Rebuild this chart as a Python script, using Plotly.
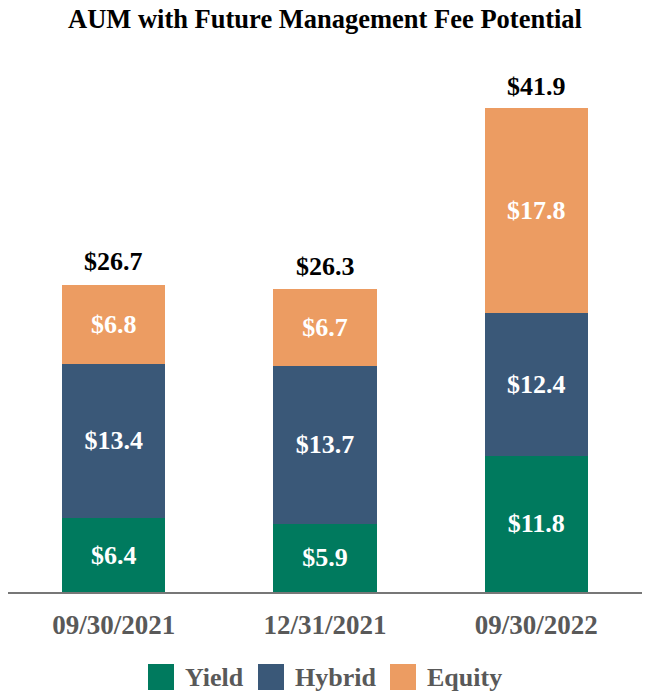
import plotly.graph_objects as go

categories = ["09/30/2021", "12/31/2021", "09/30/2022"]
yield_vals = [6.4, 5.9, 11.8]
hybrid_vals = [13.4, 13.7, 12.4]
equity_vals = [6.8, 6.7, 17.8]
totals = [26.7, 26.3, 41.9]
series_names = ["Yield", "Hybrid", "Equity"]
series_colors = ["#007A5E", "#3A5878", "#EC9C62"]
series_vals = [yield_vals, hybrid_vals, equity_vals]

FONT = "Liberation Serif, Times New Roman, serif"

# plot area in pixels (for placing the hand-made legend)
L, R, T, B = 8, 642, 73, 592
def px(x):
    return (x - L) / (R - L)
def py(y):
    return (B - y) / (B - T)

fig = go.Figure()
for name, vals, color in zip(series_names, series_vals, series_colors):
    fig.add_trace(go.Bar(
        x=categories, y=vals, name=name, marker_color=color,
        marker_line_width=0,
        text=[f"${v:.1f}" for v in vals], textposition="inside",
        insidetextanchor="middle",
        textfont=dict(family=FONT, size=26, color="white", weight="bold"),
        showlegend=False, hoverinfo="skip",
    ))

for c, t in zip(categories, totals):
    fig.add_annotation(
        x=c, y=t, text=f"${t:.1f}", showarrow=False,
        yanchor="bottom", yshift=6,
        font=dict(family=FONT, size=26, color="black", weight="bold"),
    )

# legend: squares + labels
legend_sq_x = [148, 258, 390]
for name, color, sx in zip(series_names, series_colors, legend_sq_x):
    fig.add_shape(type="rect", xref="paper", yref="paper",
                  x0=px(sx), x1=px(sx + 26), y0=py(690), y1=py(664),
                  fillcolor=color, line_width=0)
    fig.add_annotation(xref="paper", yref="paper", x=px(sx + 35), y=py(677),
                       xanchor="left", yanchor="middle", showarrow=False,
                       text=name,
                       font=dict(family=FONT, size=26, color="#595959", weight="bold"))

fig.update_layout(
    width=650, height=700,
    barmode="stack", bargap=0.51,
    plot_bgcolor="white", paper_bgcolor="white",
    margin=dict(l=L, r=650 - R, t=T, b=700 - B, autoexpand=False),
    title=dict(text="AUM with Future Management Fee Potential",
               x=0.5, xanchor="center", y=0.973, yanchor="middle",
               font=dict(family=FONT, size=26.5, color="black", weight="bold")),
    xaxis=dict(showline=True, linecolor="#777777", linewidth=2,
               ticks="", tickfont=dict(family=FONT, size=27, color="#595959", weight="bold"),
               ticklabelstandoff=8),
    yaxis=dict(visible=False, range=[0, 45]),
    showlegend=False,
)

fig.write_html("out.html")
